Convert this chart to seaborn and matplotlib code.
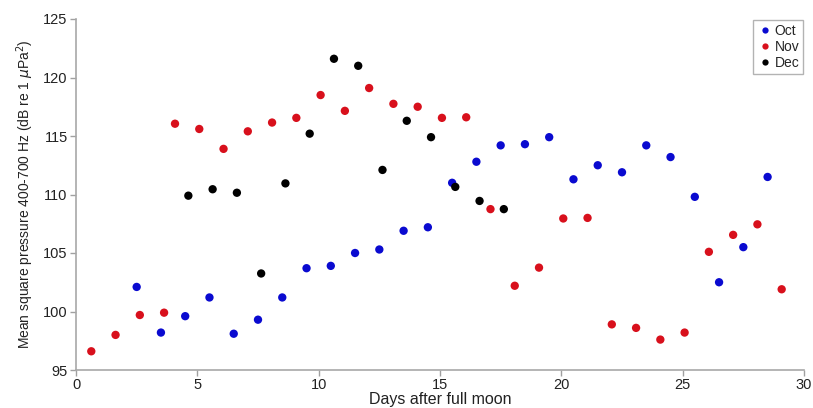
import matplotlib
matplotlib.use("Agg")
import matplotlib.pyplot as plt
import seaborn as sns
import pandas as pd

oct_days = [2.5, 3.5, 4.5, 5.5, 6.5, 7.5, 8.5, 9.5, 10.5, 11.5, 12.5, 13.5, 14.5, 15.5,
            16.5, 17.5, 18.5, 19.5, 20.5, 21.5, 22.5, 23.5, 24.5, 25.5, 26.5, 27.5, 28.5]
oct_vals = [102.1, 98.2, 99.6, 101.2, 98.1, 99.3, 101.2, 103.7, 103.9, 105.0, 105.3, 106.9,
            107.2, 111.0, 112.8, 114.2, 114.3, 114.9, 111.3, 112.5, 111.9, 114.2, 113.2,
            109.8, 102.5, 105.5, 111.5]

nov_days = [0.63, 1.63, 2.63, 3.63, 4.08, 5.08, 6.08, 7.08, 8.08, 9.08, 10.08, 11.08, 12.08,
            13.08, 14.08, 15.08, 16.08, 17.08, 18.08, 19.08, 20.08, 21.08, 22.08, 23.08,
            24.08, 25.08, 26.08, 27.08, 28.08, 29.08]
nov_vals = [96.6, 98.0, 99.7, 99.9, 116.05, 115.6, 113.9, 115.4, 116.15, 116.55, 118.5, 117.15,
            119.1, 117.75, 117.5, 116.55, 116.6, 108.75, 102.2, 103.75, 107.95, 108.0, 98.9,
            98.6, 97.6, 98.2, 105.1, 106.55, 107.45, 101.9]

dec_days = [4.63, 5.63, 6.63, 7.63, 8.63, 9.63, 10.63, 11.63, 12.63, 13.63, 14.63, 15.63,
            16.63, 17.63]
dec_vals = [109.9, 110.45, 110.15, 103.25, 110.95, 115.2, 121.6, 121.0, 112.1, 116.3, 114.9,
            110.65, 109.45, 108.75]

months = ["Oct", "Nov", "Dec"]
x_ticks = [0, 5, 10, 15, 20, 25, 30]
y_ticks = [95, 100, 105, 110, 115, 120, 125]

df = pd.concat([
    pd.DataFrame({"day": oct_days, "val": oct_vals, "month": "Oct"}),
    pd.DataFrame({"day": nov_days, "val": nov_vals, "month": "Nov"}),
    pd.DataFrame({"day": dec_days, "val": dec_vals, "month": "Dec"}),
], ignore_index=True)

sns.set_style("white")
plt.rcParams["font.family"] = ["Liberation Sans", "DejaVu Sans"]

fig = plt.figure(figsize=(8.13, 4.08), dpi=100)
ax = fig.add_axes([76 / 813, 38 / 408, (804 - 76) / 813, (370 - 19) / 408])

palette = {"Oct": "#0a0ad0", "Nov": "#d8101c", "Dec": "#000000"}
sns.scatterplot(data=df, x="day", y="val", hue="month", hue_order=months,
                palette=palette, s=36, edgecolor="none", ax=ax)

ax.set_xlim(0, 30)
ax.set_ylim(95, 125)
ax.set_xticks(x_ticks)
ax.set_yticks(y_ticks)
ax.tick_params(axis="both", direction="out", length=4, width=1, color="#a0a0a0",
               labelsize=10.5, pad=2, bottom=True, left=True, labelcolor="#222222")
for side in ["top", "right"]:
    ax.spines[side].set_visible(False)
for side in ["left", "bottom"]:
    ax.spines[side].set_color("#a8a8a8")
    ax.spines[side].set_linewidth(1.2)

ax.set_xlabel("Days after full moon", fontsize=11.5, labelpad=0, color="#222222")
ax.set_ylabel(r"Mean square pressure 400-700 Hz (dB re 1 $\mu$Pa$^2$)", fontsize=10,
              labelpad=5, color="#222222")

leg = ax.legend(loc="upper right", bbox_to_anchor=(1.0, 1.0), frameon=True, fontsize=10,
                handletextpad=0.1, borderpad=0.25, labelspacing=0.15, handlelength=1.2,
                borderaxespad=0.1, fancybox=False, markerscale=0.75)
leg.get_frame().set_edgecolor("#a0a0a0")
leg.get_frame().set_linewidth(1.0)

fig.savefig("out.png", dpi=100)
